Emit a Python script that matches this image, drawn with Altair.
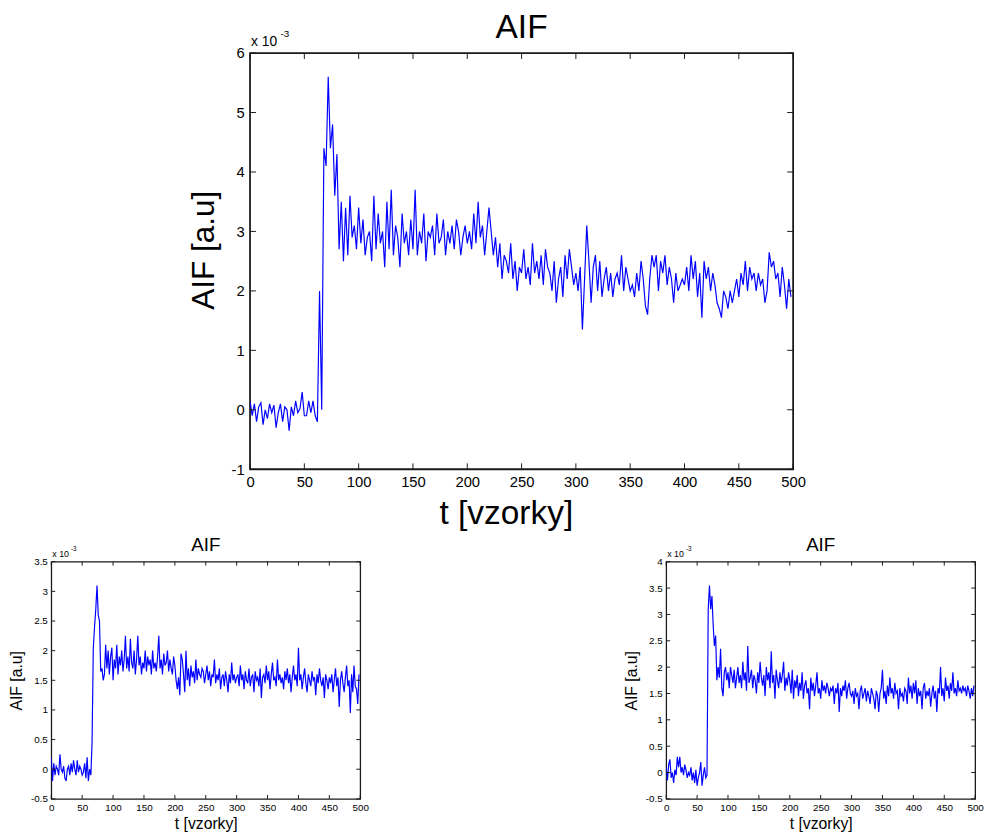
import altair as alt
import pandas as pd

FONT = "Liberation Sans"
BLUE = "#0000ff"
FRAME = "#1a1a1a"

# ---- data (units of 1e-3), one value every 2 samples ----
main_vals = [
    0.15, -0.1, 0.1, -0.2, 0.05, 0.12, -0.25, 0.0, -0.15, 0.1, -0.05, 0.08, -0.3, -0.05, 0.1, -0.2,
    0.05, 0.0, -0.35, 0.05, -0.1, 0.15, -0.05, 0.02, 0.3, -0.1, -0.1, 0.15, -0.05, 0.15, -0.1, -0.2,
    2.0, 0.0, 4.4, 4.1, 5.6, 4.4, 4.8, 3.6, 4.3, 2.7, 3.5, 2.5, 3.4,
    2.6, 3.6, 2.9, 3.1, 2.7, 3.4, 2.8, 3.2, 2.6, 2.9, 3.0, 2.5, 3.6, 2.7, 3.3, 2.8, 3.0, 2.4, 3.5, 2.7,
    3.7, 2.6, 3.1, 2.9, 2.4, 3.3, 2.8, 3.0, 2.6, 3.2, 2.7, 3.7, 2.6, 3.0, 2.8, 3.3, 2.5, 3.0, 2.9, 3.1,
    2.6, 3.3, 2.8, 2.9, 3.2, 2.6, 3.0, 2.8, 3.1, 2.7, 3.2, 3.0, 2.6, 2.9, 3.1, 2.8, 3.0, 2.7, 3.3, 2.8,
    3.5, 2.9, 3.1, 2.6, 3.0,
    3.4, 3.0, 2.6, 2.9, 2.4, 2.8, 2.2, 2.6, 2.5, 2.3, 2.8, 2.2, 2.5, 2.0, 2.4, 2.3, 2.7, 2.2, 2.4, 2.1,
    2.8, 2.3, 2.5, 2.2, 2.6, 2.1, 2.7, 2.4, 2.3, 2.0, 2.5, 1.8, 2.2, 2.4, 1.9, 2.6, 2.2, 2.7, 2.4, 2.1,
    2.3, 2.0, 2.4, 1.35, 2.2, 3.1, 2.5, 1.8, 2.4, 2.6, 2.0, 2.5, 1.9, 2.2, 2.4, 2.0, 2.3, 1.9, 2.2, 2.3,
    2.1, 2.6, 2.0, 2.4, 2.2, 2.0, 2.1, 1.9, 2.3, 2.0, 2.5, 2.2, 1.75, 1.6, 2.2, 2.6, 2.4, 2.6, 2.0, 2.5,
    2.3, 2.6, 2.1, 2.4, 2.2, 1.8, 2.3, 2.0, 2.1, 2.2,
    2.1, 2.4, 2.0, 2.6, 2.2, 2.5, 1.9, 2.3, 1.55, 2.5, 2.2, 2.4, 2.0, 2.3, 2.1, 1.8, 1.7, 1.55, 2.0, 1.9,
    1.7, 2.0, 1.8, 2.0, 2.2, 1.9, 2.3, 2.1, 2.5, 2.0, 2.4, 2.2, 2.3, 2.0, 2.3, 2.1, 2.2, 1.8, 2.0, 2.65,
    2.4, 2.5, 2.2, 2.3, 1.9, 2.4, 2.1, 1.7, 2.2, 1.9,
]

left_vals = [
    0.2, -0.2, 0.1, -0.1, 0.05, 0.0, -0.1, 0.25, 0.0, -0.05, 0.05, -0.15, -0.2, 0.0, 0.05, -0.1,
    0.1, -0.05, 0.15, 0.0, -0.1, 0.15, -0.05, 0.05, 0.0, -0.1, -0.05, 0.1, -0.15, 0.2, -0.2, 0.0, -0.1,
    0.45, 2.05, 2.4, 2.7, 3.1, 2.6, 2.5, 1.65, 1.7, 1.5, 1.6, 2.1,
    1.7, 2.0, 1.6, 1.9, 2.05, 1.5, 1.85, 1.7, 2.1, 1.6, 1.9, 1.75, 2.0, 1.65, 1.85, 2.25, 1.7, 1.9, 1.65, 2.2,
    1.8, 1.7, 2.0, 1.6, 1.85, 2.25, 1.75, 1.9, 1.6, 1.8, 1.7, 2.0, 1.65, 1.9, 1.75, 1.85, 1.6, 2.0, 1.7, 1.8,
    1.65, 1.9, 2.25, 1.7, 1.85, 1.6, 1.95, 1.75, 1.8, 2.0, 1.65, 1.85, 1.7, 1.6, 1.9, 1.75,
    1.5, 1.35, 1.55, 1.25, 1.95, 1.85, 1.6, 1.3, 2.0, 1.5, 1.7, 1.4, 1.75, 1.55, 1.65, 1.45, 1.85, 1.5, 1.7, 1.6,
    1.55, 1.7, 1.65, 1.45, 1.6, 1.75, 1.5, 1.65, 1.4, 1.6, 1.55, 1.85, 1.45, 1.6, 1.5, 1.7, 1.35, 1.55, 1.6, 1.4,
    1.65, 1.5, 1.3, 1.6, 1.45, 1.8, 1.5, 1.6, 1.45, 1.55,
    1.6, 1.4, 1.75, 1.5, 1.6, 1.35, 1.65, 1.5, 1.45, 1.7, 1.4, 1.55, 1.6, 1.3, 1.65, 1.5, 1.55, 1.4, 1.7, 1.2,
    1.55, 1.6, 1.45, 1.75, 1.5, 1.65, 1.35, 1.6, 1.8, 1.5, 1.55, 1.4, 1.85, 1.5, 1.6, 1.45, 1.55, 1.35, 1.65, 1.5,
    1.7, 1.45, 1.6, 1.3, 1.55, 1.75, 1.5, 1.6, 1.4, 2.05,
    1.5, 1.6, 1.35, 1.55, 1.7, 1.45, 1.3, 1.6, 1.5, 1.4, 1.65, 1.5, 1.55, 1.25, 1.6, 1.45, 1.7, 1.5, 1.4, 1.55,
    1.2, 1.6, 1.5, 1.35, 1.55, 1.45, 1.6, 1.3, 1.5, 1.7, 1.4, 1.55, 1.05, 1.5, 1.65, 1.45, 1.3, 1.55, 1.75, 1.4,
    1.5, 0.95, 1.6, 1.3, 1.75, 1.4, 1.35, 1.1, 1.6,
]

right_vals = [
    0.1, -0.15, 0.15, 0.25, -0.1, 0.0, -0.2, 0.05, -0.05, 0.3, 0.1, 0.3, 0.0, 0.1, -0.05, 0.15, 0.05,
    -0.1, 0.0, -0.05, 0.1, -0.15, 0.0, -0.2, 0.05, -0.25, -0.1, 0.0, 0.2, -0.25, -0.05, 0.1, -0.1, -0.05,
    3.1, 3.55, 3.1, 3.35, 2.8, 2.4, 2.6, 1.75, 2.0, 1.8, 2.35,
    1.6, 1.45, 1.9, 2.0, 1.75, 1.9, 1.6, 2.0, 1.85, 1.7, 1.95, 1.6, 1.8, 2.0, 1.7, 1.85, 1.6, 2.1, 1.75, 1.9,
    1.55, 2.4, 1.7, 1.8, 1.95, 1.6, 1.85, 1.75, 1.5, 1.9, 1.7, 2.1, 1.8, 1.65, 1.85, 1.45, 2.0, 1.75, 1.9, 1.6,
    2.3, 1.7, 1.85, 1.4, 1.95, 1.75, 1.6, 1.9, 1.7, 1.85, 2.1, 1.55, 1.8, 1.65, 1.9, 1.75,
    1.5, 1.95, 1.4, 1.75, 1.6, 1.85, 1.45, 1.7, 1.55, 1.9, 1.4, 1.65, 1.75, 1.5, 1.6, 1.2, 1.8, 1.55, 1.7, 1.45,
    1.65, 1.9, 1.5, 1.6, 1.4, 1.75, 1.55, 1.65, 1.5, 1.7, 1.6, 1.45, 1.6, 1.55, 1.65, 1.3, 1.6, 1.5, 1.7, 1.15,
    1.6, 1.45, 1.65, 1.55, 1.75, 1.4, 1.6, 1.7, 1.5, 1.45,
    1.55, 1.3, 1.6, 1.45, 1.5, 1.2, 1.55, 1.65, 1.4, 1.5, 1.6, 1.35, 1.55, 1.45, 1.3, 1.6, 1.5, 1.4, 1.2, 1.55,
    1.45, 1.15, 1.5, 1.6, 1.95, 1.4, 1.55, 1.3, 1.65, 1.45, 1.8, 1.5, 1.6, 1.4, 1.7, 1.5, 1.55, 1.2, 1.6, 1.45,
    1.5, 1.35, 1.6, 1.55, 1.3, 1.8, 1.5, 1.65, 1.4, 1.7,
    1.5, 1.75, 1.3, 1.6, 1.45, 1.55, 1.2, 1.6, 1.7, 1.4, 1.55, 1.45, 1.6, 1.25, 1.5, 1.65, 1.4, 1.55, 1.15, 1.6,
    1.5, 2.0, 1.45, 1.6, 1.35, 1.8, 1.55, 1.65, 1.4, 1.7, 1.55, 1.9, 1.5, 1.6, 1.45, 1.75, 1.55, 1.6, 1.5, 1.65,
    1.55, 1.6, 1.45, 1.65, 1.55, 1.4, 1.6, 1.45, 1.65,
]

x_ticks = [0, 50, 100, 150, 200, 250, 300, 350, 400, 450, 500]
main_yticks = [-1, 0, 1, 2, 3, 4, 5, 6]
left_yticks = [-0.5, 0, 0.5, 1, 1.5, 2, 2.5, 3, 3.5]
right_yticks = [-0.5, 0, 0.5, 1, 1.5, 2, 2.5, 3, 3.5, 4]

title_text = "AIF"
x_title = "t [vzorky]"
y_title = "AIF [a.u]"
exp_base = "x 10"
exp_sup = "-3"


def panel(vals, yticks, W, H, s):
    df = pd.DataFrame({"t": [2 * i for i in range(len(vals))], "v": vals})
    xs = alt.Scale(domain=[x_ticks[0], x_ticks[-1]], nice=False, zero=False)
    ys = alt.Scale(domain=[yticks[0], yticks[-1]], nice=False, zero=False)
    L = s["tick"]
    xextra = {"titleX": s["titlex"]} if "titlex" in s else {}
    yextra = {"titleY": s["titley"]} if "titley" in s else {}
    xaxis = alt.Axis(
        values=x_ticks, title=x_title, ticks=False, grid=False, domain=False,
        labelExpr="'' + datum.value", labelFont=FONT, labelFontSize=s["lab"],
        labelColor="#000", labelPadding=s["lpad"], titleFont=FONT,
        titleFontSize=s["axtx"], titleFontWeight="normal", titleColor="#000",
        titlePadding=s["tpadx"], labelFlush=False, **xextra)
    yaxis = alt.Axis(
        values=yticks, title=y_title, ticks=False, grid=False, domain=False,
        labelExpr="'' + datum.value", labelFont=FONT, labelFontSize=s["lab"],
        labelColor="#000", labelPadding=s["lpad"], titleFont=FONT,
        titleFontSize=s["axty"], titleFontWeight="normal", titleColor="#000",
        titlePadding=s["tpady"], labelFlush=False, **yextra)
    line = alt.Chart(df).mark_line(color=BLUE, strokeWidth=s["lw"], clip=True).encode(
        x=alt.X("t:Q", scale=xs, axis=xaxis),
        y=alt.Y("v:Q", scale=ys, axis=yaxis),
    )
    xt = pd.DataFrame({"t": x_ticks})
    yt = pd.DataFrame({"v": yticks})
    rule = dict(color=FRAME, strokeWidth=1)
    xb = alt.Chart(xt).mark_rule(**rule).encode(
        x=alt.X("t:Q", scale=xs, axis=xaxis), y=alt.value(H), y2=alt.value(H - L))
    xtp = alt.Chart(xt).mark_rule(**rule).encode(
        x=alt.X("t:Q", scale=xs, axis=xaxis), y=alt.value(0), y2=alt.value(L))
    yl = alt.Chart(yt).mark_rule(**rule).encode(
        y=alt.Y("v:Q", scale=ys, axis=yaxis), x=alt.value(0), x2=alt.value(L))
    yr = alt.Chart(yt).mark_rule(**rule).encode(
        y=alt.Y("v:Q", scale=ys, axis=yaxis), x=alt.value(W), x2=alt.value(W - L))
    t1 = alt.Chart(pd.DataFrame({"s": [exp_base]})).mark_text(
        align="left", baseline="alphabetic", font=FONT, fontSize=s["exp"], color="#000"
    ).encode(text="s:N", x=alt.value(1), y=alt.value(-s["expy"]))
    t2 = alt.Chart(pd.DataFrame({"s": [exp_sup]})).mark_text(
        align="left", baseline="alphabetic", font=FONT, fontSize=s["sup"], color="#000"
    ).encode(text="s:N", x=alt.value(s["supx"]), y=alt.value(-s["supy"]))
    return alt.layer(line, xb, xtp, yl, yr, t1, t2).properties(
        width=W, height=H,
        view=alt.ViewBackground(stroke=FRAME, strokeWidth=s["frame"]),
        title=alt.TitleParams(title_text, font=FONT, fontSize=s["tit"], fontWeight="normal",
                              color="#000", anchor="middle", frame="group", offset=s["toff"]),
    )


big = dict(lw=1.2, tick=6, lab=15, lpad=6, axtx=34, axty=32, tpadx=7, tpady=11, tit=34,
           toff=-16, exp=14, expy=7, sup=10, supx=31, supy=16, frame=1.8,
           titlex=260, titley=200)
small = dict(lw=1.2, tick=4, lab=10, lpad=4, axtx=16, axty=16, tpadx=3, tpady=6, tit=19,
             toff=-9, exp=9, expy=5, sup=6.5, supx=20, supy=11, frame=1.3)

main = panel(main_vals, main_yticks, 552, 423, big)
left = panel(left_vals, left_yticks, 314, 241, small)
right = panel(right_vals, right_yticks, 314, 241, small)

spacer = alt.Chart(pd.DataFrame({"a": [0]})).mark_point(opacity=0).encode(
    x=alt.value(0), y=alt.value(0)
).properties(width=137, height=10, view=alt.ViewBackground(stroke=None))

top_row = alt.hconcat(spacer, main, spacing=0)
bottom_row = alt.hconcat(left, right, spacing=258)

chart = alt.vconcat(top_row, bottom_row, spacing=4).properties(
    padding={"top": -4, "left": 0, "right": 0, "bottom": 0}
).configure_view(stroke=None)

chart.save("out.html", embed_options={"renderer": "svg", "actions": False})
